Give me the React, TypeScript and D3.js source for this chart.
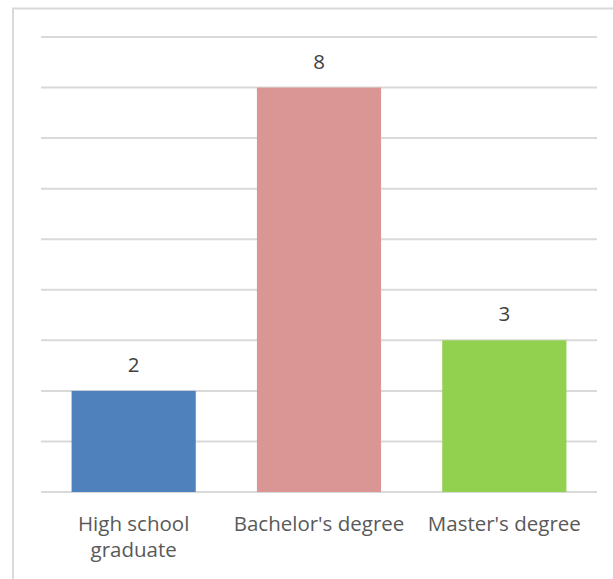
import React from "react";
import * as d3 from "d3";

const categories: string[][] = [["High school", "graduate"], ["Bachelor's degree"], ["Master's degree"]];
const values: number[] = [2, 8, 3];
const colors: string[] = ["#4f81bd", "#d99694", "#92d050"];
const yTicks: number[] = [0, 1, 2, 3, 4, 5, 6, 7, 8, 9];

const W = 613;
const H = 579;
const left = 41;
const right = 597;
const top = 37;
const bottom = 492;
const FONT = "'Open Sans', sans-serif";

export default function App() {
  const keys = categories.map((c) => c.join(" "));
  const x = d3.scaleBand<string>().domain(keys).range([left, right]).paddingInner(0.33).paddingOuter(0.165);
  const y = d3.scaleLinear().domain([0, 9]).range([bottom, top]);

  return (
    <svg width={W} height={H} style={{ position: "absolute", left: 0, top: 0 }}>
      <rect x={0} y={0} width={W} height={H} fill="#fff" />
      <rect x={13} y={8.5} width={W} height={H} fill="#fff" stroke="#d9d9d9" strokeWidth={2} />
      {yTicks.map((t) => (
        <line key={t} x1={left} x2={right} y1={y(t)} y2={y(t)} stroke="#d9d9d9" strokeWidth={2} />
      ))}
      {keys.map((k, i) => (
        <g key={k}>
          <rect x={x(k)} y={y(values[i])} width={x.bandwidth()} height={y(0) - y(values[i])} fill={colors[i]} />
          <text
            x={(x(k) ?? 0) + x.bandwidth() / 2}
            y={y(values[i]) - 19}
            textAnchor="middle"
            fontFamily={FONT}
            fontSize={20.5}
            fill="#404040"
          >
            {values[i]}
          </text>
          <text
            x={(x(k) ?? 0) + x.bandwidth() / 2}
            y={531}
            textAnchor="middle"
            fontFamily={FONT}
            fontSize={20.5}
            fill="#595959"
          >
            {categories[i].map((line, j) => (
              <tspan key={j} x={(x(k) ?? 0) + x.bandwidth() / 2} dy={j === 0 ? 0 : 25.5}>
                {line}
              </tspan>
            ))}
          </text>
        </g>
      ))}
    </svg>
  );
}
